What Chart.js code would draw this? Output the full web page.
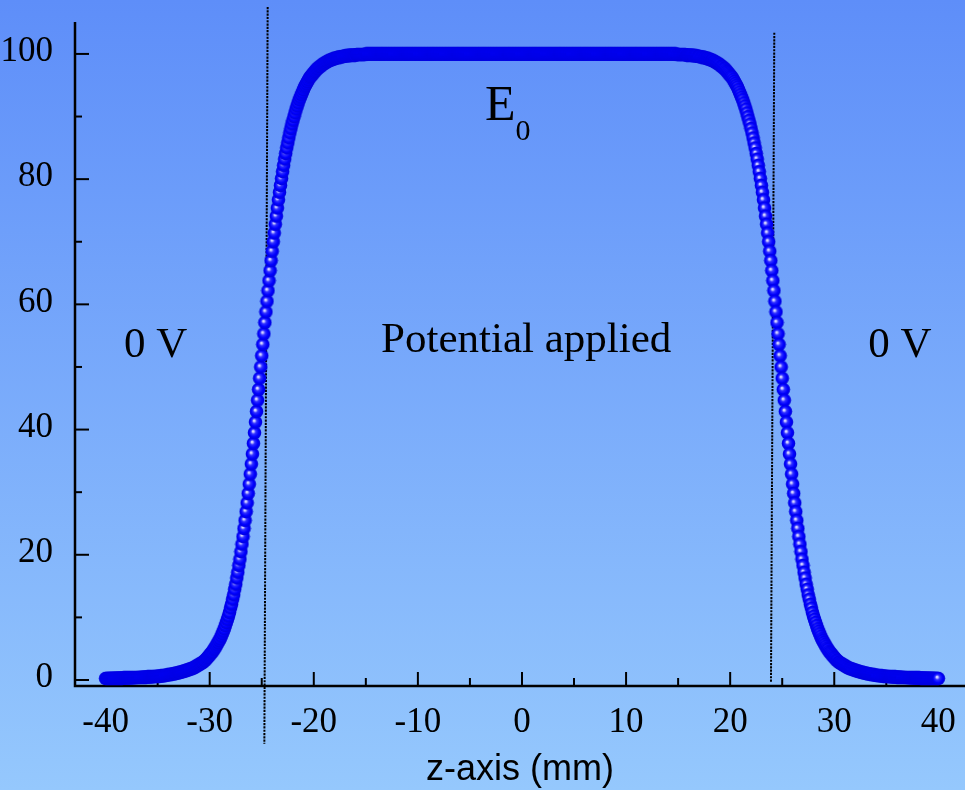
<!DOCTYPE html>
<html>
<head>
<meta charset="utf-8">
<script src="https://cdn.jsdelivr.net/npm/chart.js@4.4.1/dist/chart.umd.min.js"></script>
<style>
  html, body { margin: 0; padding: 0; overflow: hidden; background: #7aaefb; }
  #wrap { width: 965px; height: 790px; position: relative; }
  canvas { display: block; }
</style>
</head>
<body>
<div id="wrap"><canvas id="chart" width="965" height="790"></canvas></div>
<script>
// Potential along the z-axis (mm), sampled every 0.1 mm.
const zStep = 0.1;

// z = -40.0 … -34.2
const leftFoot = [
  0.25,0.25,0.25,0.26,0.26,0.26,0.27,0.27,0.27,0.28,
  0.28,0.29,0.29,0.3,0.3,0.31,0.31,0.32,0.32,0.33,
  0.33,0.34,0.34,0.35,0.35,0.36,0.37,0.37,0.38,0.39,
  0.39,0.4,0.41,0.42,0.42,0.43,0.44,0.45,0.46,0.47,
  0.48,0.49,0.5,0.51,0.52,0.53,0.54,0.55,0.57,0.58,
  0.59,0.61,0.62,0.64,0.66,0.68,0.7,0.72,0.77
];

// z = -34.1 … -16.1
const leftSlope = [
  0.8,0.83,0.86,0.89,0.92,0.95,0.98,1.01,1.05,1.09,
  1.13,1.17,1.21,1.25,1.3,1.35,1.4,1.45,1.5,1.56,
  1.62,1.68,1.74,1.8,1.85,1.9,2.0,2.1,2.2,2.3,
  2.4,2.5,2.6,2.7,2.8,2.9,3.1,3.2,3.4,3.6,
  3.8,4.0,4.2,4.4,4.6,4.9,5.1,5.4,5.7,6.0,
  6.3,6.6,7.0,7.4,7.8,8.2,8.7,9.2,9.7,10.2,
  10.8,11.5,12.1,12.9,13.6,14.5,15.3,16.3,17.2,18.3,
  19.3,20.5,21.7,22.9,24.2,25.5,26.9,28.3,29.8,31.3,
  32.9,34.5,36.1,37.8,39.5,41.2,42.9,44.7,46.4,48.2,
  50,
  51.8,53.6,55.3,57.1,58.8,60.5,62.2,63.8,65.4,67.0,
  68.5,70.0,71.4,72.8,74.1,75.4,76.7,77.9,79.0,80.1,
  81.2,82.2,83.2,84.1,85.0,85.8,86.6,87.4,88.1,88.8,
  89.4,90.0,90.6,91.2,91.7,92.2,92.7,93.1,93.5,93.9,
  94.3,94.7,95.0,95.3,95.6,95.9,96.2,96.4,96.6,96.8,
  97.0,97.2,97.4,97.6,97.7,97.9,98.0,98.1,98.3,98.4,
  98.5,98.6,98.7,98.8,98.9,99.0,99.0,99.1,99.2,99.2,
  99.3,99.3,99.4,99.4,99.5,99.5,99.5,99.6,99.6,99.6,
  99.7,99.7,99.7,99.7,99.8,99.8,99.8,99.8,99.8,99.8
];

// z = -16.0 … 15.8
const plateau = [
  99.8,99.9,99.9,99.9,99.9,99.9,99.9,99.9,99.9,99.9,
  100,100,100,100,100,100,100,100,100,100,100,100,100,100,100,100,100,100,100,100,
  100,100,100,100,100,100,100,100,100,100,100,100,100,100,100,100,100,100,100,100,
  100,100,100,100,100,100,100,100,100,100,100,100,100,100,100,100,100,100,100,100,
  100,100,100,100,100,100,100,100,100,100,100,100,100,100,100,100,100,100,100,100,
  100,100,100,100,100,100,100,100,100,100,100,100,100,100,100,100,100,100,100,100,
  100,100,100,100,100,100,100,100,100,100,100,100,100,100,100,100,100,100,100,100,
  100,100,100,100,100,100,100,100,100,100,100,100,100,100,100,100,100,100,100,100,
  100,100,100,100,100,100,100,100,100,100,100,100,100,100,100,100,100,100,100,100,
  100,100,100,100,100,100,100,100,100,100,100,100,100,100,100,100,100,100,100,100,
  100,100,100,100,100,100,100,100,100,100,100,100,100,100,100,100,100,100,100,100,
  100,100,100,100,100,100,100,100,100,100,100,100,100,100,100,100,100,100,100,100,
  100,100,100,100,100,100,100,100,100,100,100,100,100,100,100,100,100,100,100,100,
  100,100,100,100,100,100,100,100,100,100,100,100,100,100,100,100,100,100,100,100,
  100,100,100,100,100,100,100,100,100,100,100,100,100,100,100,100,100,100,100,100,
  100,100,100,100,100,100,100,100,100,100,100,100,100,100,100,100,100,100,100,
  99.9,99.9,99.9,99.9,99.9,99.9,99.9,99.9,99.9,99.8
];

// z = 15.9 … 33.9
const rightSlope = [
  99.8,99.8,99.8,99.8,99.8,99.8,99.7,99.7,99.7,99.7,
  99.6,99.6,99.6,99.5,99.5,99.5,99.4,99.4,99.3,99.3,
  99.2,99.2,99.1,99.0,99.0,98.9,98.8,98.7,98.6,98.5,
  98.4,98.3,98.1,98.0,97.9,97.7,97.6,97.4,97.2,97.0,
  96.8,96.6,96.4,96.2,95.9,95.6,95.3,95.0,94.7,94.3,
  93.9,93.5,93.1,92.7,92.2,91.7,91.2,90.6,90.0,89.4,
  88.8,88.1,87.4,86.6,85.8,85.0,84.1,83.2,82.2,81.2,
  80.1,79.0,77.9,76.7,75.4,74.1,72.8,71.4,70.0,68.5,
  67.0,65.4,63.8,62.2,60.5,58.8,57.1,55.3,53.6,51.8,
  50,
  48.2,46.4,44.7,42.9,41.2,39.5,37.8,36.1,34.5,32.9,
  31.3,29.8,28.3,26.9,25.5,24.2,22.9,21.7,20.5,19.3,
  18.3,17.2,16.3,15.3,14.5,13.6,12.9,12.1,11.5,10.8,
  10.2,9.7,9.2,8.7,8.2,7.8,7.4,7.0,6.6,6.3,
  6.0,5.7,5.4,5.1,4.9,4.6,4.4,4.2,4.0,3.8,
  3.6,3.4,3.2,3.1,2.9,2.8,2.7,2.6,2.5,2.4,
  2.3,2.2,2.1,2.0,1.9,1.85,1.8,1.74,1.68,1.62,
  1.56,1.5,1.45,1.4,1.35,1.3,1.25,1.21,1.17,1.13,
  1.09,1.05,1.01,0.98,0.95,0.92,0.89,0.86,0.83,0.8
];

// z = 34.0 … 40.0
const rightFoot = [
  0.77,0.74,0.72,0.7,0.68,0.66,0.64,0.62,0.61,0.59,
  0.58,0.57,0.55,0.54,0.53,0.52,0.51,0.5,0.49,0.48,
  0.47,0.46,0.45,0.44,0.43,0.42,0.42,0.41,0.4,0.39,
  0.39,0.38,0.37,0.37,0.36,0.35,0.35,0.34,0.34,0.33,
  0.33,0.32,0.32,0.31,0.31,0.3,0.3,0.29,0.29,0.28,
  0.28,0.28,0.27,0.27,0.27,0.26,0.26,0.26,0.25,0.25,
  0.25
];

const segments = [leftFoot, leftSlope, plateau, rightSlope, rightFoot];
const segmentStartZ = [-40.0, -34.1, -16.0, 15.9, 34.0];

// Axis ticks
const xMajorTicks = [-40, -30, -20, -10, 0, 10, 20, 30, 40];
const xMinorTicks = [-35, -25, -15, -5, 5, 15, 25, 35];
const yMajorTicks = [0, 20, 40, 60, 80, 100];
const yMinorTicks = [10, 30, 50, 70, 90];

// Electrode edges (dotted guides), in axis units: top and bottom ends
const electrodeEdges = [
  { top: [-24.43, 107.5], bottom: [-24.75, -10.2] },
  { top: [24.24, 103.4], bottom: [23.92, -0.3] }
];

// Region labels, in axis units (x = anchor, y = baseline)
const regionLabels = [
  { text: '0 V', z: -35.2, v: 51.6 },
  { text: 'Potential applied', z: 0.4, v: 52.4 },
  { text: '0 V', z: 36.3, v: 51.6 }
];
const fieldLabel = { main: 'E', sub: '0', z: -3.55, v: 89.5, subV: 86.3 };

// Build the point list
const points = [];
segments.forEach((vals, k) => {
  vals.forEach((v, i) => {
    points.push({ x: +(segmentStartZ[k] + i * zStep).toFixed(1), y: v });
  });
});

// Shaded ball marker
function makeBall(r) {
  const s = Math.ceil(r * 2) + 1;
  const c = document.createElement('canvas');
  c.width = s; c.height = s;
  const g = c.getContext('2d');
  const cx = s / 2, cy = s / 2;
  const grad = g.createRadialGradient(cx - 1.6, cy - 1.6, 0, cx, cy, r);
  grad.addColorStop(0, '#ffffff');
  grad.addColorStop(0.15, '#c0c0ff');
  grad.addColorStop(0.36, '#3030ff');
  grad.addColorStop(0.7, '#0000ff');
  grad.addColorStop(1, '#0000da');
  g.fillStyle = grad;
  g.beginPath();
  g.arc(cx, cy, r, 0, Math.PI * 2);
  g.fill();
  return c;
}
const ball = makeBall(6.8);

const SERIF = '"Liberation Serif", "Times New Roman", serif';
const SANS = '"Liberation Sans", Arial, sans-serif';

const decor = {
  id: 'decor',
  beforeDraw(chart) {
    const { ctx, width, height } = chart;
    const g = ctx.createLinearGradient(0, 0, 0, height);
    g.addColorStop(0, '#5e8ef9');
    g.addColorStop(1, '#95c8fd');
    ctx.save();
    ctx.fillStyle = g;
    ctx.fillRect(0, 0, width, height);
    ctx.restore();
  },
  beforeDatasetsDraw(chart) {
    const { ctx, chartArea: ca } = chart;
    const xs = chart.scales.x, ys = chart.scales.y;
    ctx.save();
    // axes
    ctx.strokeStyle = '#000';
    ctx.lineWidth = 2.5;
    ctx.lineJoin = 'miter';
    ctx.beginPath();
    ctx.moveTo(ca.left, ca.top);
    ctx.lineTo(ca.left, ca.bottom);
    ctx.lineTo(ca.right + 2, ca.bottom);
    ctx.stroke();
    // inward ticks
    ctx.lineWidth = 2;
    const tick = (vals, len, horiz) => {
      vals.forEach(v => {
        ctx.beginPath();
        if (horiz) {
          const px = xs.getPixelForValue(v);
          ctx.moveTo(px, ca.bottom);
          ctx.lineTo(px, ca.bottom - len);
        } else {
          const py = ys.getPixelForValue(v);
          ctx.moveTo(ca.left, py);
          ctx.lineTo(ca.left + len, py);
        }
        ctx.stroke();
      });
    };
    tick(xMajorTicks, 14, true);
    tick(xMinorTicks, 8, true);
    tick(yMajorTicks, 14, false);
    tick(yMinorTicks, 7, false);
    // dotted electrode edges
    ctx.strokeStyle = '#000';
    ctx.lineWidth = 2;
    ctx.setLineDash([2.2, 1.1]);
    electrodeEdges.forEach(e => {
      ctx.beginPath();
      ctx.moveTo(xs.getPixelForValue(e.top[0]), ys.getPixelForValue(e.top[1]));
      ctx.lineTo(xs.getPixelForValue(e.bottom[0]), ys.getPixelForValue(e.bottom[1]));
      ctx.stroke();
    });
    ctx.restore();
  },
  afterDatasetsDraw(chart) {
    const { ctx } = chart;
    const xs = chart.scales.x, ys = chart.scales.y;
    ctx.save();
    ctx.fillStyle = '#000';
    ctx.textBaseline = 'alphabetic';
    ctx.textAlign = 'center';
    ctx.font = '43px ' + SERIF;
    regionLabels.forEach(l => {
      ctx.fillText(l.text, xs.getPixelForValue(l.z), ys.getPixelForValue(l.v));
    });
    ctx.textAlign = 'left';
    ctx.font = '50px ' + SERIF;
    const ex = xs.getPixelForValue(fieldLabel.z);
    ctx.fillText(fieldLabel.main, ex, ys.getPixelForValue(fieldLabel.v));
    const ew = ctx.measureText(fieldLabel.main).width;
    ctx.font = '30px ' + SERIF;
    ctx.fillText(fieldLabel.sub, ex + ew, ys.getPixelForValue(fieldLabel.subV));
    ctx.restore();
  }
};

new Chart(document.getElementById('chart'), {
  type: 'scatter',
  data: {
    datasets: [{
      data: points,
      showLine: false,
      pointStyle: ball,
      pointRadius: 6.8,
      pointHoverRadius: 6.8,
      clip: false
    }]
  },
  options: {
    responsive: false,
    animation: false,
    events: [],
    layout: { autoPadding: false, padding: { top: 22, right: 0, bottom: 0, left: 0 } },
    plugins: { legend: { display: false }, tooltip: { enabled: false } },
    scales: {
      x: {
        type: 'linear',
        min: -42.94,
        max: 42.56,
        afterBuildTicks: s => { s.ticks = xMajorTicks.map(v => ({ value: v })); },
        afterFit: s => { s.height = 104; s.paddingLeft = 0; s.paddingRight = 0; },
        grid: { display: false },
        border: { display: false },
        ticks: {
          color: '#000',
          font: { family: SERIF, size: 35 },
          padding: 8,
          maxRotation: 0,
          autoSkip: false,
          callback: v => String(v)
        },
        title: {
          display: true,
          text: 'z-axis (mm)',
          color: '#000',
          font: { family: SANS, size: 36, lineHeight: 1.1 },
          padding: { top: 0, bottom: 0 }
        }
      },
      y: {
        type: 'linear',
        min: -0.96,
        max: 105.1,
        afterBuildTicks: s => { s.ticks = yMajorTicks.map(v => ({ value: v })); },
        afterFit: s => { s.width = 75; s.paddingTop = 0; s.paddingBottom = 0; },
        grid: { display: false },
        border: { display: false },
        ticks: {
          color: '#000',
          font: { family: SERIF, size: 35 },
          padding: 14,
          labelOffset: -2,
          autoSkip: false,
          callback: v => String(v)
        }
      }
    }
  },
  plugins: [decor]
});
</script>
</body>
</html>
